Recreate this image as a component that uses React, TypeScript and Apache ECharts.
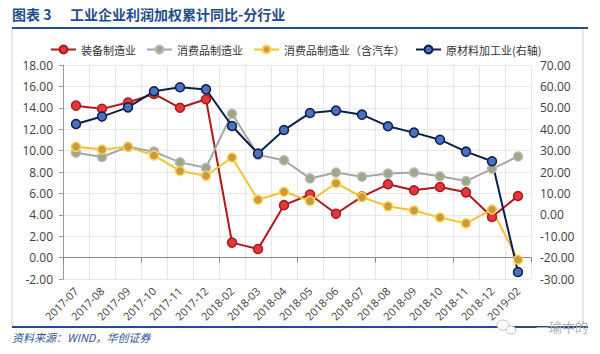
import React, { useEffect, useRef } from "react";
import * as echarts from "echarts";

const categories = [
  "2017-07", "2017-08", "2017-09", "2017-10", "2017-11", "2017-12",
  "2018-02", "2018-03", "2018-04", "2018-05", "2018-06", "2018-07",
  "2018-08", "2018-09", "2018-10", "2018-11", "2018-12", "2019-02",
];
const equipment = [14.2, 13.9, 14.5, 15.3, 14.0, 14.8, 1.4, 0.8, 4.9, 5.9, 4.1, 5.7, 6.85, 6.3, 6.6, 6.1, 3.8, 5.75];
const consumer = [9.8, 9.4, 10.35, 9.9, 8.9, 8.4, 13.45, 9.6, 9.1, 7.4, 7.95, 7.55, 7.85, 7.95, 7.6, 7.15, 8.3, 9.45];
const consumerAuto = [10.35, 10.1, 10.35, 9.55, 8.1, 7.65, 9.35, 5.4, 6.15, 5.3, 6.95, 5.65, 4.8, 4.4, 3.75, 3.2, 4.5, -0.2];
const rawMaterial = [42.4, 45.9, 50.2, 57.7, 59.6, 58.6, 41.5, 28.6, 39.6, 47.6, 48.7, 46.8, 41.4, 38.4, 35.1, 29.5, 25.0, -26.7];
const seriesNames = ["装备制造业", "消费品制造业", "消费品制造业（含汽车）", "原材料加工业(右轴)"];

const FONT = "'Noto Sans CJK SC', 'Noto Sans', sans-serif";

export default function App() {
  const ref = useRef<HTMLDivElement>(null);
  useEffect(() => {
    if (!ref.current) return;
    const chart = echarts.init(ref.current, null, { renderer: "svg" });
    const mk = (name: string, data: number[], line: string, fill: string, border: string, yIdx: number) => ({
      name,
      type: "line",
      data,
      xAxisIndex: 0,
      yAxisIndex: yIdx,
      symbol: "circle",
      symbolSize: 9,
      lineStyle: { color: line, width: 2 },
      itemStyle: { color: fill, borderColor: border, borderWidth: 1.5 },
    });
    chart.setOption({
      animation: false,
      backgroundColor: "#ffffff",
      textStyle: { fontFamily: FONT },
      legend: {
        top: 44,
        left: 50,
        padding: 0,
        itemWidth: 25,
        itemHeight: 10,
        itemGap: 10,
        textStyle: { fontSize: 11, color: "#333", fontFamily: FONT },
        data: seriesNames,
      },
      grid: { left: 63, right: 69, top: 65, bottom: 75 },
      xAxis: [
        {
          type: "category",
          data: categories,
          boundaryGap: true,
          axisLine: { show: false, onZero: false },
          axisTick: { show: false },
          axisLabel: { rotate: 45, fontSize: 11, color: "#404040", margin: 10, fontFamily: "'Open Sans', sans-serif" },
          splitLine: { show: true, lineStyle: { color: "#e8e8e8", width: 1 } },
        },
        {
          type: "category",
          data: categories,
          position: "bottom",
          boundaryGap: true,
          axisLine: { show: true, onZero: true, onZeroAxisIndex: 0, lineStyle: { color: "#888", width: 1 } },
          axisTick: { show: true, length: 5, lineStyle: { color: "#888" } },
          axisLabel: { show: false },
          splitLine: { show: false },
        },
      ],
      yAxis: [
        {
          type: "value",
          min: -2,
          max: 18,
          interval: 2,
          position: "left",
          axisLine: { show: true, lineStyle: { color: "#999" } },
          axisTick: { show: true, length: 4, lineStyle: { color: "#999" } },
          axisLabel: { formatter: (v: number) => v.toFixed(2), fontSize: 12, color: "#404040", margin: 10, fontFamily: "'Open Sans', sans-serif" },
          splitLine: { show: true, lineStyle: { color: "#e8e8e8", width: 1 } },
        },
        {
          type: "value",
          min: -30,
          max: 70,
          interval: 10,
          position: "right",
          axisLine: { show: false },
          axisTick: { show: false },
          axisLabel: { formatter: (v: number) => v.toFixed(2), fontSize: 12, color: "#404040", margin: 9, fontFamily: "'Open Sans', sans-serif" },
          splitLine: { show: false },
        },
      ],
      series: [
        mk(seriesNames[0], equipment, "#b0161c", "#e03a3a", "#b0161c", 0),
        mk(seriesNames[1], consumer, "#a6a6a6", "#9ea887", "#b8b8b8", 0),
        mk(seriesNames[2], consumerAuto, "#f5c232", "#c69a45", "#ffd24a", 0),
        mk(seriesNames[3], rawMaterial, "#0c1f4c", "#4a72c0", "#0c1f4c", 1),
      ],
      graphic: [
        {
          type: "text",
          left: 12,
          top: 7,
          style: { text: "图表 3", fontSize: 14, fontWeight: "bold", fill: "#1f4e8c", fontFamily: FONT },
        },
        {
          type: "text",
          left: 70,
          top: 7,
          style: { text: "工业企业利润加权累计同比-分行业", fontSize: 14, fontWeight: "bold", fill: "#1f4e8c", fontFamily: FONT },
        },
        {
          type: "rect",
          shape: { x: 12, y: 28, width: 571, height: 299 },
          style: { fill: "none", stroke: "#d0d0d0", lineWidth: 1 },
          silent: true,
          z: -1,
        },
        {
          type: "line",
          shape: { x1: 12, y1: 28, x2: 588, y2: 28 },
          style: { stroke: "#1f4e8c", lineWidth: 2 },
        },
        {
          type: "line",
          shape: { x1: 12, y1: 327, x2: 588, y2: 327 },
          style: { stroke: "#1f4e8c", lineWidth: 2 },
        },
        {
          type: "text",
          left: 12,
          top: 331,
          style: { text: "资料来源：WIND，华创证券", fontSize: 11, fontStyle: "italic", fill: "#2f5597", fontFamily: FONT },
        },
        {
          type: "ellipse",
          shape: { cx: 503, cy: 325, rx: 6, ry: 5 },
          style: { fill: "#ffffff", stroke: "#c0c0c0", lineWidth: 1 },
        },
        {
          type: "ellipse",
          shape: { cx: 511, cy: 330, rx: 5, ry: 4 },
          style: { fill: "#ffffff", stroke: "#c0c0c0", lineWidth: 1 },
        },
        {
          type: "text",
          left: 536,
          top: 320,
          style: { text: "一瑜中的", fontSize: 13, fill: "#b0b0b0", fontFamily: FONT },
        },
      ],
    });
    return () => chart.dispose();
  }, []);
  return (
    <div
      ref={ref}
      style={{ position: "fixed", left: 0, top: 0, width: 600, height: 354, background: "#fff" }}
    />
  );
}
